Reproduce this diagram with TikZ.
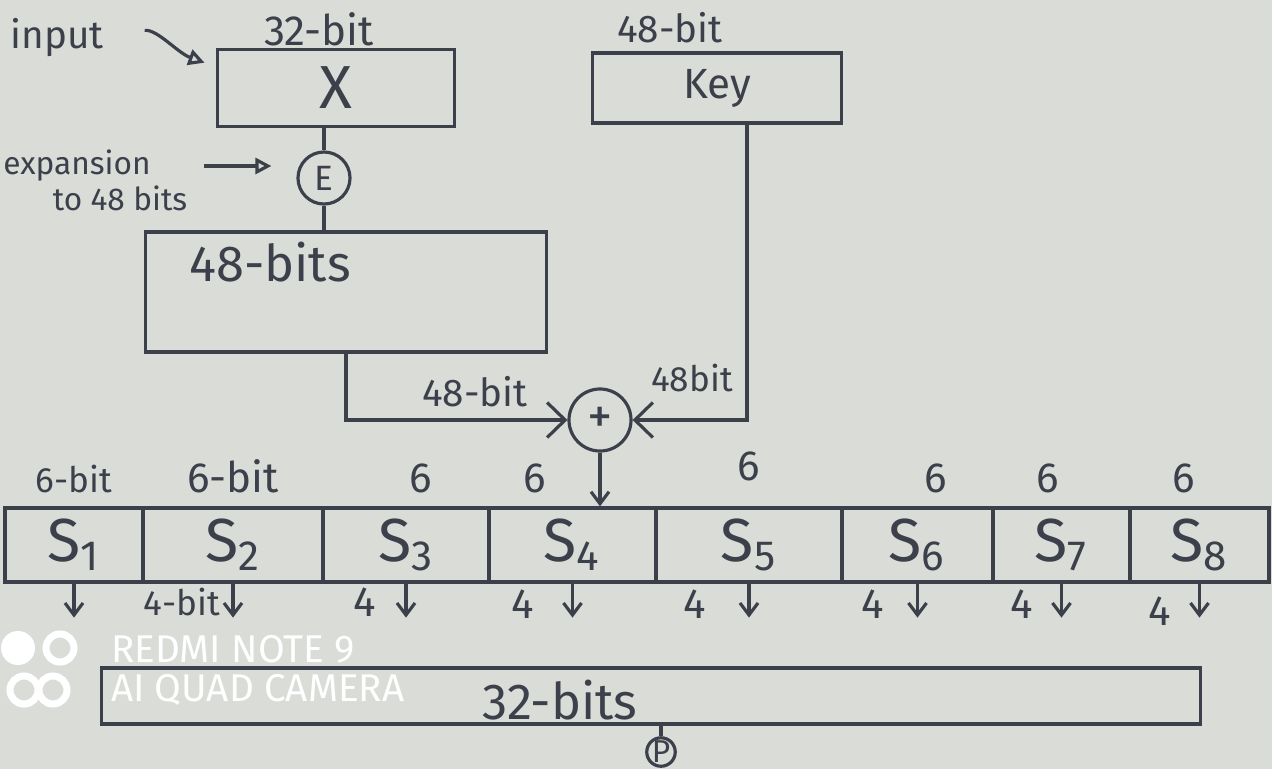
\documentclass[tikz,border=0pt]{standalone}
\usepackage{fontspec}
\setmainfont{Fira Sans}
\usepackage{xcolor}
\usetikzlibrary{arrows.meta,calc}
\definecolor{ink}{RGB}{60,64,74}
\definecolor{paper}{RGB}{217,220,215}

\begin{document}
\begin{tikzpicture}[x=0.01cm,y=-0.01cm,>=Stealth,color=ink,line width=0.9pt,
  font=\fontsize{11}{13}\selectfont,
  box/.style={draw,rectangle,inner sep=0pt},
  sbox/.style={box,minimum height=0.74cm,font=\LARGE},
  op/.style={draw,circle,inner sep=0pt},
  opentip/.style={-{Triangle[open,length=1.6mm,width=1.6mm]}},
  mixtip/.style={-{Straight Barb[length=1.8mm,width=3.5mm]}},
  outtip/.style={-{Straight Barb[length=1.2mm,width=1.8mm]}},
  wmark/.style={text=white,anchor=west,inner sep=1pt,font=\fontsize{11}{13}\selectfont}]
  \fill[paper] (0,0) rectangle (1272,769);
  \useasboundingbox (0,0) rectangle (1272,769);

  \node (inlbl) at (57,38) {input};
  \node[font=\large] (xbits) at (319,29) {32-bit};
  \node[box,minimum width=2.37cm,minimum height=0.77cm,font=\LARGE] (xbox) at (336,88) {X};
  \node (kbits) at (670,28) {48-bit};
  \node[box,minimum width=2.49cm,minimum height=0.70cm,font=\large] (keybox) at (717,88) {Key};
  \node[op,minimum size=0.52cm,font=\normalsize] (E) at (324,178) {E};
  \node[font=\small] (exp1) at (77,166) {expansion};
  \node[font=\small] (exp2) at (120,198) {to 48 bits};
  \node[box,minimum width=4.01cm,minimum height=1.2cm] (ebox) at (346,292) {};
  \node[font=\Large] (ebits) at (270,262) {48-bits};
  \node[op,minimum size=0.62cm,font=\Large] (xor) at (600,420) {+};
  \node (lbits) at (475,392) {48-bit};
  \node[font=\normalsize] (rbits) at (692,378) {48bit};

  \draw[opentip,shorten <=0.28cm,shorten >=0.12cm] (inlbl) to[out=5,in=160] (xbox.170);
  \draw[opentip,shorten <=0.4cm,shorten >=0.25cm] (exp1) -- (exp1 -| E.west);
  \draw (xbox.south -| E) -- (E);
  \draw (E) -- (E |- ebox.north);
  \draw[mixtip] (ebox.south) |- (xor);
  \draw[mixtip] ($(keybox.south)+(30,0)$) |- (xor);

  \node[sbox,minimum width=1.38cm] (s1) at (74,545) {S\textsubscript{1}};
  \node[sbox,minimum width=1.80cm] (s2) at (233,545) {S\textsubscript{2}};
  \node[sbox,minimum width=1.66cm] (s3) at (406,545) {S\textsubscript{3}};
  \node[sbox,minimum width=1.67cm] (s4) at (572.5,545) {S\textsubscript{4}};
  \node[sbox,minimum width=1.86cm] (s5) at (749,545) {S\textsubscript{5}};
  \node[sbox,minimum width=1.51cm] (s6) at (917.5,545) {S\textsubscript{6}};
  \node[sbox,minimum width=1.37cm] (s7) at (1061.5,545) {S\textsubscript{7}};
  \node[sbox,minimum width=1.39cm] (s8) at (1199.5,545) {S\textsubscript{8}};
  \draw[outtip] (xor) -- (xor |- s4.north);

  \node[above,font=\normalsize] (t1) at (s1.north) {6-bit};
  \node[above,font=\large] (t2) at (s2.north) {6-bit};
  \node[above,font=\large,xshift=0.15cm] (t3) at (s3.north) {6};
  \node[above,font=\large,xshift=-0.38cm] (t4) at (s4.north) {6};
  \node[above,font=\large,yshift=0.12cm] (t5) at (s5.north) {6};
  \node[above,font=\large,xshift=0.18cm] (t6) at (s6.north) {6};
  \node[above,font=\large,xshift=-0.14cm] (t7) at (s7.north) {6};
  \node[above,font=\large,xshift=-0.16cm] (t8) at (s8.north) {6};

  \draw[outtip] (s1.south) -- ++(0,34);
  \draw[outtip] (s2.south) -- ++(0,34) node[pos=0.55,left=0.08cm,inner sep=1pt,font=\normalsize] (b2) {4-bit};
  \draw[outtip] (s3.south) -- ++(0,34) node[pos=0.55,left=0.25cm,inner sep=1pt,font=\large] (b3) {4};
  \draw[outtip] (s4.south) -- ++(0,34) node[pos=0.6,left=0.25cm,font=\large] (b4) {4};
  \draw[outtip] (s5.south) -- ++(0,34) node[pos=0.6,left=0.3cm,font=\large] (b5) {4};
  \draw[outtip] (s6.south) -- ++(0,34) node[pos=0.6,left=0.2cm,font=\large] (b6) {4};
  \draw[outtip] (s7.south) -- ++(0,34) node[pos=0.6,left=0.15cm,font=\large] (b7) {4};
  \draw[outtip] (s8.south) -- ++(0,34) node[pos=0.8,left=0.15cm,font=\large] (b8) {4};

  \node[box,minimum width=10.98cm,minimum height=0.56cm] (pbox) at (651,696) {};
  \node[font=\Large] (pbits) at (560,700) {32-bits};
  \node[op,minimum size=0.28cm,font=\small] (P) at (661,752) {P};
  \draw (P) -- (P |- pbox.south);

  \fill[white] (18,648) circle (0.17cm);
  \draw[white,line width=2pt] (60,648) circle (0.14cm);
  \draw[white,line width=2pt] (24,690) circle (0.14cm) (53,690) circle (0.14cm);
  \node[wmark] (wm1) at (106,649) {REDMI NOTE 9};
  \node[wmark] (wm2) at (106,690) {AI QUAD CAMERA};
\end{tikzpicture}
\end{document}
